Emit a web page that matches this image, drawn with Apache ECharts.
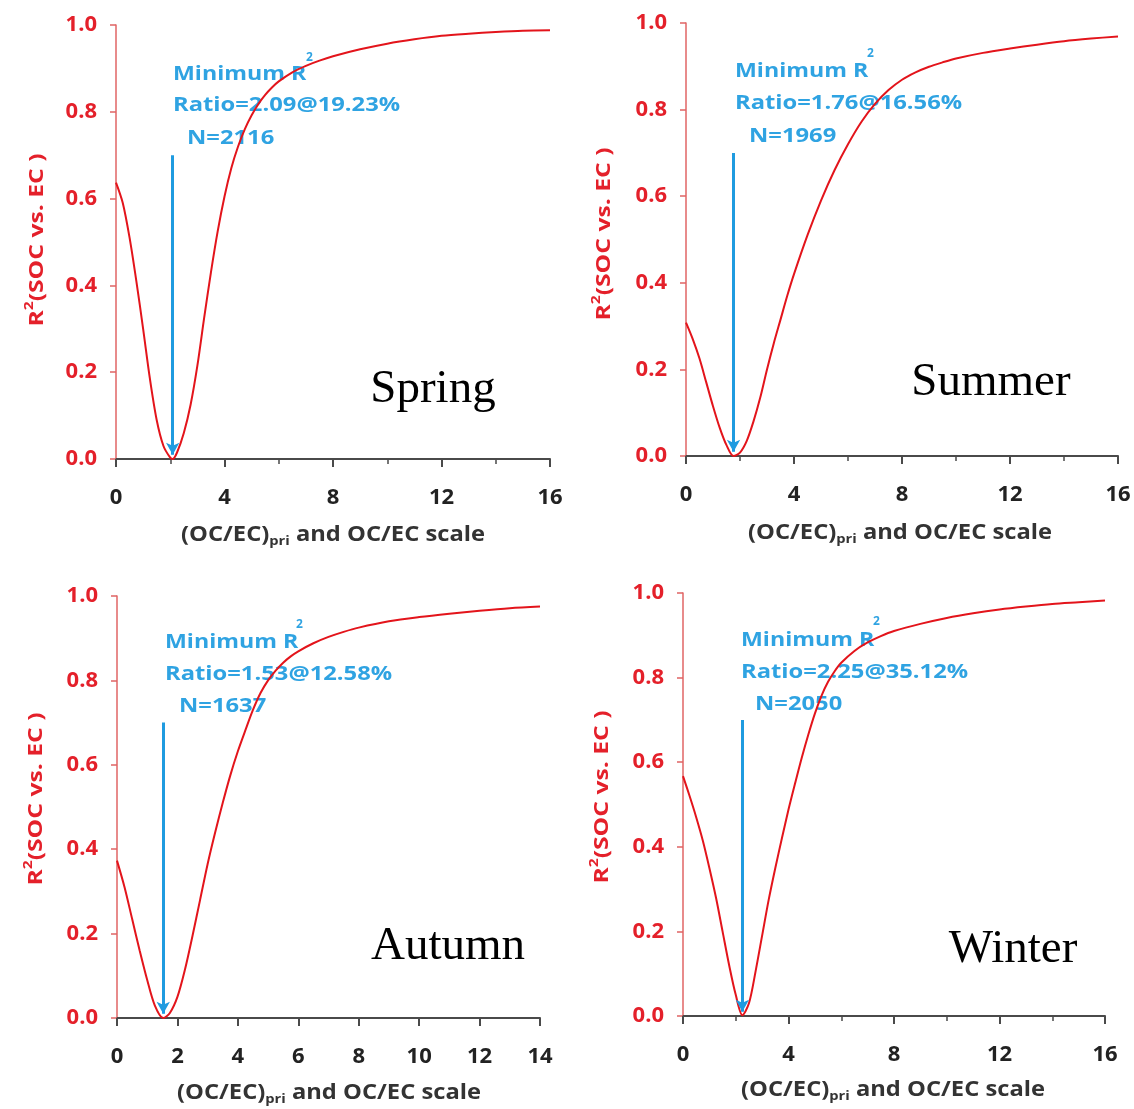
<!DOCTYPE html>
<html>
<head>
<meta charset="utf-8">
<script src="https://cdn.jsdelivr.net/npm/echarts@6/dist/echarts.min.js"></script>
<style>
html,body{margin:0;padding:0;background:#fff;}
#chart{width:1134px;height:1109px;}
</style>
</head>
<body>
<div id="chart"></div>
<script>
// ---------- data ----------
const seasons = ['Spring', 'Summer', 'Autumn', 'Winter'];
const ratioMin = [2.09, 1.76, 1.53, 2.25];
const socPct = ['19.23%', '16.56%', '12.58%', '35.12%'];
const nValues = [2116, 1969, 1637, 2050];
const xMax = [16, 16, 14, 16];
const xInterval = [4, 4, 2, 4];
const arrowTop = 0.70;
const arrowBottom = 0.01;

const springX = [0, 0.25, 0.5, 0.75, 1, 1.25, 1.5, 1.75, 2, 2.09, 2.25, 2.5, 2.75, 3, 3.25, 3.5, 3.75, 4, 4.25, 4.5, 4.75, 5, 5.25, 5.5, 5.75, 6, 6.5, 7, 7.5, 8, 9, 10, 11, 12, 13, 14, 15, 16];
const springY = [0.637, 0.59, 0.51, 0.41, 0.30, 0.185, 0.09, 0.03, 0.003, 0, 0.015, 0.06, 0.125, 0.215, 0.325, 0.43, 0.525, 0.605, 0.67, 0.72, 0.76, 0.792, 0.818, 0.839, 0.856, 0.870, 0.891, 0.906, 0.918, 0.928, 0.944, 0.957, 0.967, 0.975, 0.980, 0.984, 0.987, 0.988];

const summerX = [0, 0.25, 0.5, 0.75, 1, 1.25, 1.5, 1.76, 2, 2.25, 2.5, 2.75, 3, 3.25, 3.5, 3.75, 4, 4.5, 5, 5.5, 6, 6.5, 7, 7.5, 8, 8.5, 9, 9.5, 10, 11, 12, 13, 14, 15, 16];
const summerY = [0.308, 0.27, 0.225, 0.17, 0.115, 0.065, 0.025, 0, 0.008, 0.035, 0.08, 0.135, 0.20, 0.26, 0.315, 0.37, 0.42, 0.51, 0.59, 0.66, 0.72, 0.772, 0.813, 0.845, 0.869, 0.886, 0.899, 0.909, 0.918, 0.931, 0.941, 0.95, 0.958, 0.964, 0.969];

const autumnX = [0, 0.25, 0.5, 0.75, 1, 1.25, 1.53, 1.75, 2, 2.25, 2.5, 2.75, 3, 3.25, 3.5, 3.75, 4, 4.25, 4.5, 4.75, 5, 5.25, 5.5, 5.75, 6, 6.5, 7, 7.5, 8, 9, 10, 11, 12, 13, 14];
const autumnY = [0.373, 0.31, 0.235, 0.16, 0.09, 0.03, 0, 0.012, 0.05, 0.115, 0.195, 0.28, 0.365, 0.44, 0.51, 0.575, 0.632, 0.682, 0.73, 0.77, 0.80, 0.823, 0.842, 0.857, 0.869, 0.888, 0.903, 0.915, 0.925, 0.94, 0.95, 0.958, 0.965, 0.971, 0.975];

const winterX = [0, 0.25, 0.5, 0.75, 1, 1.25, 1.5, 1.75, 2, 2.25, 2.5, 2.75, 3, 3.25, 3.5, 3.75, 4, 4.25, 4.5, 4.75, 5, 5.25, 5.5, 5.75, 6, 6.5, 7, 7.5, 8, 9, 10, 11, 12, 13, 14, 15, 16];
const winterY = [0.567, 0.52, 0.47, 0.415, 0.35, 0.28, 0.20, 0.12, 0.05, 0.002, 0.03, 0.105, 0.19, 0.275, 0.35, 0.42, 0.488, 0.55, 0.61, 0.665, 0.715, 0.757, 0.79, 0.815, 0.835, 0.863, 0.883, 0.898, 0.91, 0.927, 0.941, 0.952, 0.961, 0.968, 0.974, 0.978, 0.982];

const curvesX = [springX, summerX, autumnX, winterX];
const curvesY = [springY, summerY, autumnY, winterY];

const xTitleText = '{a|(OC/EC)}{b|pri}{a| and OC/EC scale}';
const yTitleText = '{a|R}{s|2}{a|(SOC vs. EC )}';

// ---------- layout & style ----------
const grids = [
  {left: 116, top: 25, width: 434, height: 434},
  {left: 686, top: 23, width: 432, height: 433},
  {left: 117, top: 596, width: 423, height: 422},
  {left: 683, top: 593, width: 422, height: 423}
];
// annotation anchors: [left, yMinimum, supX, supY, yRatio, nLeft, yN]
const annot = [
  [173, 75, 306, 58, 106, 187, 139],
  [735, 72, 867, 54, 104, 749, 137],
  [165, 643, 296, 625, 675, 179, 707],
  [741, 641, 873, 622, 673, 755, 705]
];
const seasonPos = [[433, 390], [991, 383], [448, 947], [1013, 950]];
const xTitlePos = [[333, 535], [900, 533], [329, 1093], [893, 1090]];
const yTitlePos = [[38, 240], [605, 234], [37, 799], [603, 797]];

const SANS = '"Open Sans", "Noto Sans", sans-serif';
const RED = '#e4202a';
const AXRED = '#e06464';
const BLUE = '#2fa3e2';
const ARROW = '#1f9be0';
const GREY = '#4a4a4a';

const chart = echarts.init(document.getElementById('chart'), null, {renderer: 'canvas'});

const option = {
  animation: false,
  backgroundColor: '#ffffff',
  grid: grids.map(g => Object.assign({containLabel: false, outerBoundsMode: 'none'}, g)),
  xAxis: seasons.map((s, i) => ({
    type: 'value', gridIndex: i, min: 0, max: xMax[i], interval: xInterval[i],
    axisLine: {show: true, onZero: false, lineStyle: {color: GREY, width: 2}},
    axisTick: {show: true, length: 8, lineStyle: {color: GREY, width: 2}},
    minorTick: {show: i !== 2, splitNumber: 2, length: 5, lineStyle: {color: GREY, width: 1.5}},
    splitLine: {show: false},
    axisLabel: {color: '#222', fontFamily: SANS, fontWeight: 'bold', fontSize: 22, margin: 28}
  })),
  yAxis: seasons.map((s, i) => ({
    type: 'value', gridIndex: i, min: 0, max: 1, interval: 0.2,
    axisLine: {show: true, lineStyle: {color: AXRED, width: 1.5}},
    axisTick: {show: true, length: 6, lineStyle: {color: AXRED, width: 1.5}},
    splitLine: {show: false},
    axisLabel: {color: RED, fontFamily: SANS, fontWeight: 'bold', fontSize: 22, margin: 19,
      formatter: v => v.toFixed(1)}
  })),
  series: seasons.map((s, i) => ({
    name: s, type: 'line', xAxisIndex: i, yAxisIndex: i,
    data: curvesX[i].map((x, k) => [x, curvesY[i][k]]),
    showSymbol: false, symbol: 'none',
    smooth: 0.3,
    lineStyle: {color: '#e3141b', width: 2},
    z: 3,
    markLine: {
      silent: true, animation: false,
      symbol: ['none', 'arrow'], symbolSize: [10, 12],
      lineStyle: {color: ARROW, width: 3, type: 'solid'},
      label: {show: false},
      data: [[{coord: [ratioMin[i], arrowTop]}, {coord: [ratioMin[i], arrowBottom]}]]
    }
  })),
  graphic: []
};

seasons.forEach((s, i) => {
  const a = annot[i];
  const ts = {fontFamily: SANS, fontWeight: 'bold', fontSize: 19, fill: BLUE, verticalAlign: 'middle', align: 'left'};
  option.graphic.push(
    {type: 'text', x: a[0], y: a[1], scaleX: 1.22, style: Object.assign({}, ts, {text: 'Minimum R'})},
    {type: 'text', x: a[2], y: a[3], style: Object.assign({}, ts, {text: '2', fontSize: 12})},
    {type: 'text', x: a[0], y: a[4], scaleX: 1.25, style: Object.assign({}, ts, {text: 'Ratio=' + ratioMin[i].toFixed(2) + '@' + socPct[i]})},
    {type: 'text', x: a[5], y: a[6], scaleX: 1.25, style: Object.assign({}, ts, {text: 'N=' + nValues[i]})},
    {type: 'text', x: seasonPos[i][0], y: seasonPos[i][1],
      style: {text: s, fontFamily: '"Liberation Serif", "Times New Roman", serif', fontSize: 47, fill: '#000', align: 'center', verticalAlign: 'middle'}},
    {type: 'text', x: xTitlePos[i][0], y: xTitlePos[i][1], scaleX: 1.13,
      style: {text: xTitleText, align: 'center', verticalAlign: 'middle',
        rich: {
          a: {fontFamily: SANS, fontWeight: 'bold', fontSize: 21, fill: '#333', lineHeight: 26},
          b: {fontFamily: SANS, fontWeight: 'bold', fontSize: 13, fill: '#333', verticalAlign: 'bottom', lineHeight: 15}
        }}},
    {type: 'text', x: yTitlePos[i][0], y: yTitlePos[i][1], rotation: Math.PI / 2, scaleX: 1.3,
      style: {text: yTitleText, align: 'center', verticalAlign: 'middle',
        rich: {
          a: {fontFamily: SANS, fontWeight: 'bold', fontSize: 19, fill: RED, lineHeight: 28},
          s: {fontFamily: SANS, fontWeight: 'bold', fontSize: 12, fill: RED, verticalAlign: 'top', lineHeight: 28}
        }}}
  );
});

chart.setOption(option);
</script>
</body>
</html>
